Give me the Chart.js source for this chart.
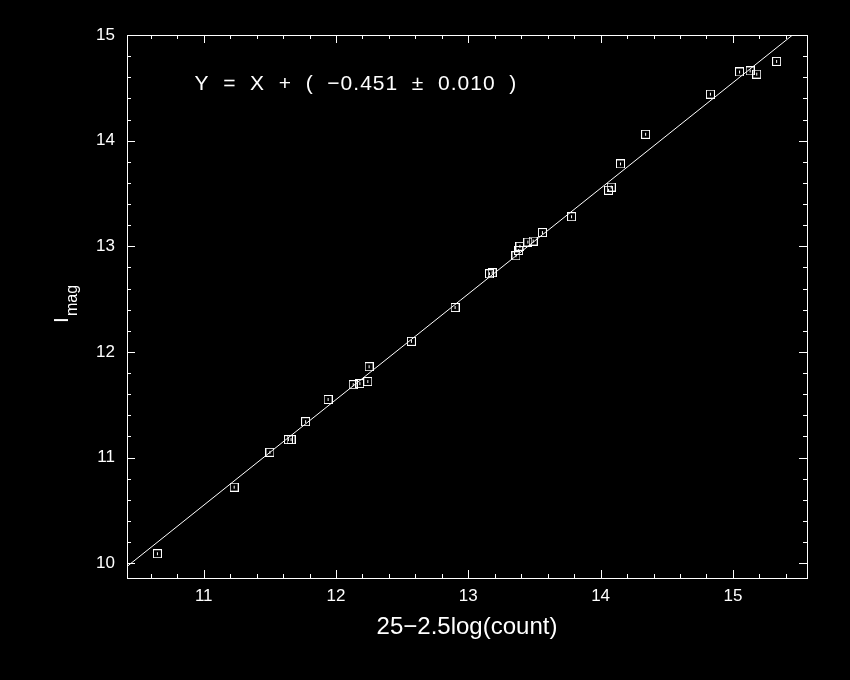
<!DOCTYPE html>
<html>
<head>
<meta charset="utf-8">
<script src="https://cdn.jsdelivr.net/npm/chart.js@4.4.1/dist/chart.umd.min.js"></script>
<style>
  html, body { margin: 0; padding: 0; background: #000; }
  canvas { display: block; }
</style>
</head>
<body>
<canvas id="fitChart" width="850" height="680"></canvas>
<script>
// instrumental magnitude vs catalogue I magnitude
const instMag = [10.65, 11.23, 11.50, 11.64, 11.66, 11.77, 11.94, 12.13, 12.18, 12.24, 12.25,
                 12.57, 12.90, 13.16, 13.18, 13.36, 13.38, 13.39, 13.45, 13.49, 13.56, 13.78,
                 14.06, 14.08, 14.15, 14.34, 14.83, 15.05, 15.13, 15.18, 15.33];
const iMag    = [10.09, 10.72, 11.05, 11.17, 11.17, 11.34, 11.55, 11.69, 11.70, 11.72, 11.86,
                 12.10, 12.42, 12.74, 12.75, 12.91, 12.96, 13.00, 13.04, 13.05, 13.13, 13.28,
                 13.53, 13.56, 13.78, 14.06, 14.44, 14.65, 14.66, 14.63, 14.75];
const zeroPoint = -0.451;
const zeroErr   = 0.010;
const xRange = [10.42, 15.56];
const yRange = [9.86, 15];
const majorTicks = [10, 11, 12, 13, 14, 15];

const fg = '#ffffff';
const FONT = '"Liberation Sans", Arial, sans-serif';

// little square marker with a short error stroke inside
function makeMarker() {
  const c = document.createElement('canvas');
  c.width = 9; c.height = 9;
  const g = c.getContext('2d');
  g.strokeStyle = fg;
  g.lineWidth = 1;
  g.strokeRect(0.5, 0.5, 8, 8);
  g.fillStyle = fg;
  g.fillRect(4, 3, 1, 3);
  return c;
}

const fitLine = xRange.map(x => ({ x: x, y: x + zeroPoint }));
const points = instMag.map((x, i) => ({ x: x, y: iMag[i] }));

// frame with inward ticks, equation and y label
const framePlugin = {
  id: 'frame',
  afterDraw(chart) {
    const { ctx, chartArea: a, scales } = chart;
    const xs = scales.x, ys = scales.y;
    ctx.save();
    ctx.strokeStyle = fg;
    ctx.lineWidth = 1;
    ctx.strokeRect(Math.round(a.left) + 0.5, Math.round(a.top) + 0.5,
                   Math.round(a.right - a.left), Math.round(a.bottom - a.top));

    const tick = (v, major, axis) => {
      const len = major ? 8 : 4;
      ctx.beginPath();
      if (axis === 'x') {
        const p = Math.round(xs.getPixelForValue(v)) + 0.5;
        ctx.moveTo(p, a.bottom); ctx.lineTo(p, a.bottom - len);
        ctx.moveTo(p, a.top); ctx.lineTo(p, a.top + len);
      } else {
        const p = Math.round(ys.getPixelForValue(v)) + 0.5;
        ctx.moveTo(a.left, p); ctx.lineTo(a.left + len, p);
        ctx.moveTo(a.right, p); ctx.lineTo(a.right - len, p);
      }
      ctx.stroke();
    };
    for (let k = Math.ceil(xRange[0] * 5); k <= Math.floor(xRange[1] * 5); k++) {
      tick(k / 5, k % 5 === 0, 'x');
    }
    for (let k = Math.ceil(yRange[0] * 5); k <= Math.floor(yRange[1] * 5); k++) {
      tick(k / 5, k % 5 === 0, 'y');
    }

    // fit equation
    ctx.fillStyle = fg;
    ctx.font = '21px ' + FONT;
    ctx.textBaseline = 'middle';
    ctx.textAlign = 'left';
    ctx.letterSpacing = '1px';
    ctx.fillText(`Y  =  X  +  (  \u2212${Math.abs(zeroPoint).toFixed(3)}  \u00b1  ${zeroErr.toFixed(3)}  )`,
                 xs.getPixelForValue(10.93), ys.getPixelForValue(14.53));
    ctx.letterSpacing = '0px';

    // y axis label: I with subscript mag
    ctx.translate(68, 320);
    ctx.rotate(-Math.PI / 2);
    ctx.textBaseline = 'alphabetic';
    ctx.font = '21px ' + FONT;
    ctx.fillText('I', -3, 0);
    ctx.font = '16px ' + FONT;
    ctx.fillText('mag', 4, 9);
    ctx.restore();
  }
};

new Chart(document.getElementById('fitChart'), {
  type: 'scatter',
  data: {
    datasets: [
      {
        label: 'stars',
        data: points,
        pointStyle: makeMarker(),
        pointRadius: 4,
        showLine: false
      },
      {
        label: 'fit',
        type: 'line',
        data: fitLine,
        borderColor: fg,
        borderWidth: 1,
        pointRadius: 0,
        fill: false,
        tension: 0
      }
    ]
  },
  options: {
    responsive: false,
    animation: false,
    events: [],
    layout: { padding: { top: 35, right: 43, bottom: 34, left: 0 } },
    plugins: {
      legend: { display: false },
      tooltip: { enabled: false }
    },
    scales: {
      x: {
        type: 'linear',
        min: xRange[0],
        max: xRange[1],
        afterBuildTicks: s => { s.ticks = majorTicks.filter(v => v >= xRange[0] && v <= xRange[1]).map(v => ({ value: v })); },
        afterFit: s => { s.height = 68; },
        grid: { display: false, drawTicks: false },
        border: { display: false },
        ticks: { color: fg, font: { family: FONT, size: 17 }, padding: 8, maxRotation: 0 },
        title: {
          display: true,
          text: '25\u22122.5log(count)',
          color: fg,
          font: { family: FONT, size: 24 },
          padding: { top: 4, bottom: 4 }
        }
      },
      y: {
        type: 'linear',
        min: yRange[0],
        max: yRange[1],
        afterBuildTicks: s => { s.ticks = majorTicks.map(v => ({ value: v })); },
        afterFit: s => { s.width = 127; },
        grid: { display: false, drawTicks: false },
        border: { display: false },
        ticks: { color: fg, font: { family: FONT, size: 17 }, padding: 12 }
      }
    }
  },
  plugins: [framePlugin]
});
</script>
</body>
</html>
